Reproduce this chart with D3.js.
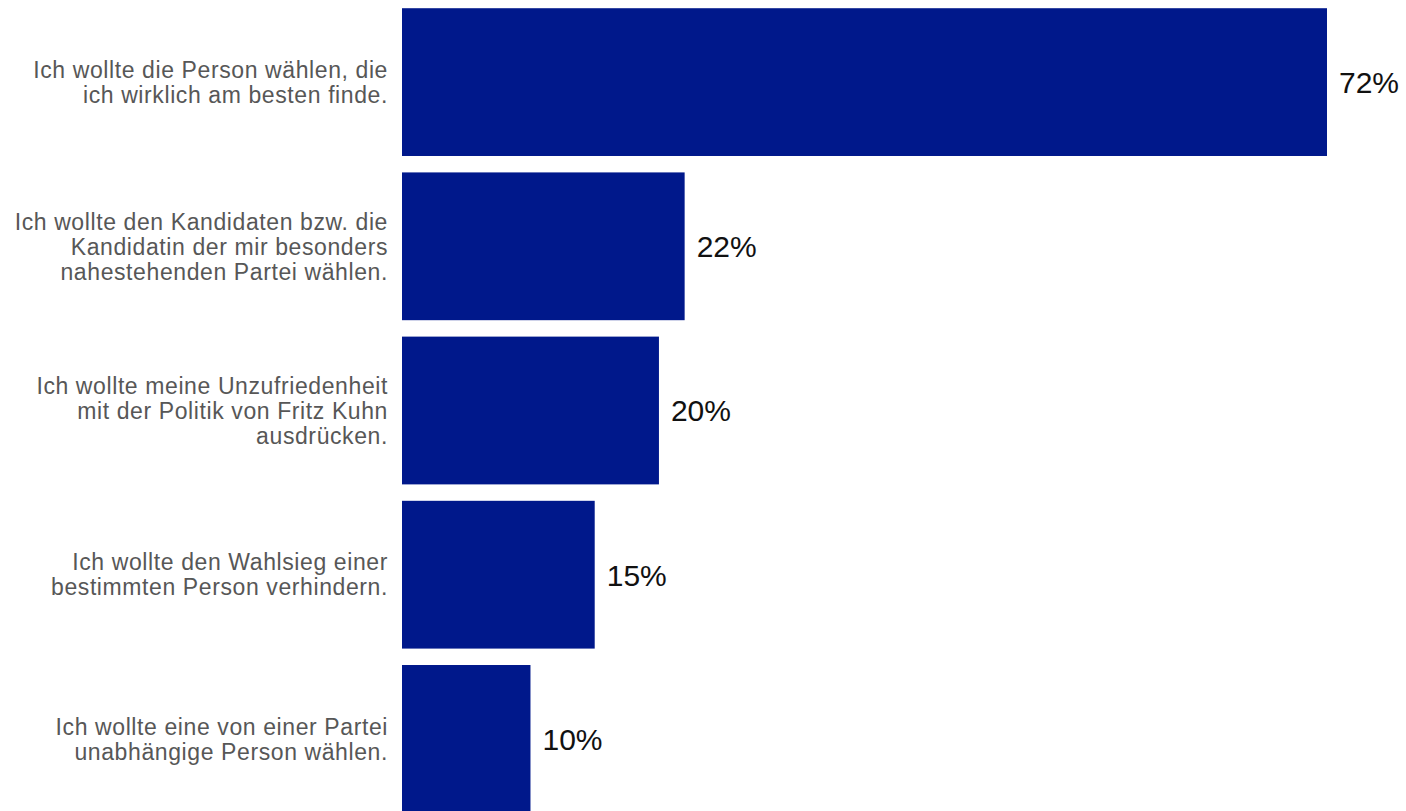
<!DOCTYPE html>
<html>
<head>
<meta charset="utf-8">
<script src="https://cdn.jsdelivr.net/npm/d3@7"></script>
<style>
  html, body { margin: 0; padding: 0; background: #fff; }
  svg { display: block; }
</style>
</head>
<body>
<svg id="chart" width="1406" height="811"></svg>
<script>
// Motive für die Wahlentscheidung (Anteile in Prozent)
const categories = [
  ["Ich wollte die Person wählen, die", "ich wirklich am besten finde."],
  ["Ich wollte den Kandidaten bzw. die", "Kandidatin der mir besonders", "nahestehenden Partei wählen."],
  ["Ich wollte meine Unzufriedenheit", "mit der Politik von Fritz Kuhn", "ausdrücken."],
  ["Ich wollte den Wahlsieg einer", "bestimmten Person verhindern."],
  ["Ich wollte eine von einer Partei", "unabhängige Person wählen."]
];
const values = [72, 22, 20, 15, 10];
const valueLabels = ["72%", "22%", "20%", "15%", "10%"];

const svg = d3.select("#chart");
const left = 402, right = 1327;

const x = d3.scaleLinear().domain([0, 72]).range([left, right]);
const y = d3.scaleBand()
  .domain(d3.range(categories.length))
  .range([0, 821])
  .paddingInner(0.1)
  .paddingOuter(0.05);

const rows = svg.selectAll("g.row")
  .data(values)
  .join("g")
  .attr("class", "row");

rows.append("rect")
  .attr("x", x(0))
  .attr("y", (d, i) => y(i))
  .attr("width", d => x(d) - x(0))
  .attr("height", y.bandwidth())
  .attr("fill", "#00188b");

rows.append("text")
  .attr("x", d => x(d) + 12)
  .attr("y", (d, i) => y(i) + y.bandwidth() / 2)
  .attr("dy", "0.36em")
  .attr("font-family", "Liberation Sans, Arial, sans-serif")
  .attr("font-size", 30)
  .attr("fill", "#111")
  .text((d, i) => valueLabels[i]);

const lineH = 25;
rows.append("text")
  .attr("text-anchor", "end")
  .attr("font-family", "Liberation Sans, Arial, sans-serif")
  .attr("font-size", 23)
  .attr("letter-spacing", "0.6px")
  .attr("fill", "#575757")
  .each(function (d, i) {
    const lines = categories[i];
    const cy = y(i) + y.bandwidth() / 2;
    const t = d3.select(this);
    lines.forEach((ln, k) => {
      t.append("tspan")
        .attr("x", 388)
        .attr("y", cy + (k - (lines.length - 1) / 2) * lineH)
        .attr("dy", "0.36em")
        .text(ln);
    });
  });
</script>
</body>
</html>
